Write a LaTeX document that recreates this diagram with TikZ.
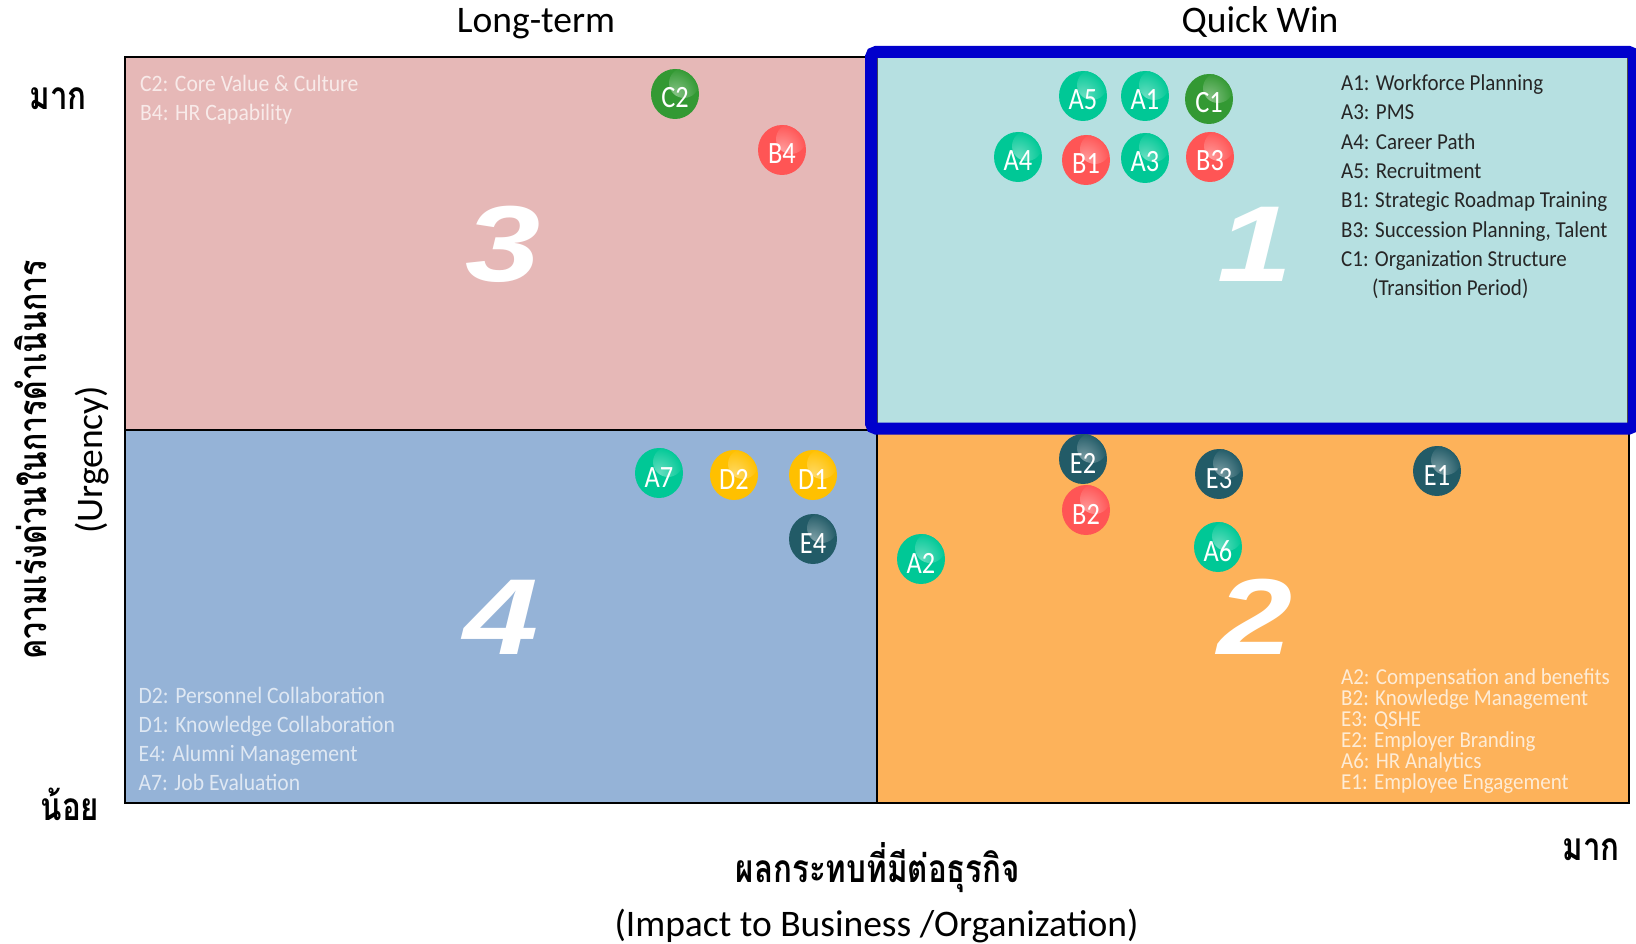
\documentclass[tikz,border=0pt]{standalone}
\usepackage{fontspec}
\usepackage{graphicx}
\setmainfont{Carlito}
\newfontfamily\legfont[FakeStretch=0.92]{Carlito}
\newfontfamily\bubfont[FakeStretch=0.85]{Carlito}
\newfontfamily\thaifont[Script=Thai]{Loma}
\newfontfamily\numfont{Liberation Sans}
\newcommand{\thsc}[1]{\scalebox{0.87}[1.08]{#1}}
\usetikzlibrary{shapes.geometric}
\definecolor{cA}{HTML}{00C896}
\definecolor{cB}{HTML}{FF5555}
\definecolor{cC}{HTML}{339933}
\definecolor{cD}{HTML}{FFC000}
\definecolor{cE}{HTML}{225B67}
\definecolor{qpink}{HTML}{E6B8B7}
\definecolor{qcyan}{HTML}{B6E0E1}
\definecolor{qblue}{HTML}{95B3D7}
\definecolor{qorange}{HTML}{FDB25A}
\definecolor{qborder}{HTML}{0000CC}
\definecolor{legdark}{HTML}{262626}
\tikzset{
  bub/.style={ellipse, minimum width=48pt, minimum height=50pt, inner sep=0pt,
    fill=#1, text=white, font=\bubfont\fontsize{31}{31}\selectfont,
    text height=28pt, text depth=0pt,
    path picture={\shade[inner color=#1!60!white, outer color=#1]
      ([xshift=9pt,yshift=11pt]path picture bounding box.center) circle (15pt);}},
  leg/.style={anchor=base west, inner sep=0pt, font=\legfont\fontsize{22.8}{22.8}\selectfont},
  legl/.style={anchor=base west, inner sep=0pt, font=\legfont\fontsize{23.5}{23.5}\selectfont},
  ttl/.style={anchor=base, inner sep=0pt, font=\fontsize{37.5}{37.5}\selectfont},
  bignum/.style={inner sep=0pt, text=white, font=\numfont\bfseries\itshape\fontsize{108}{108}\selectfont},
  thai/.style={inner sep=0pt, anchor=base, font=\thaifont\bfseries\fontsize{36}{36}\selectfont},
  gridline/.style={line width=2.2pt, black}
}
\begin{document}
\begin{tikzpicture}[x=1pt,y=-1pt]
\useasboundingbox (0,0) rectangle (1636,944);
\fill[white] (0,0) rectangle (1636,944);
% quadrants
\fill[qpink] (125,57) rectangle (877,430);
\fill[qcyan] (877,57) rectangle (1629,430);
\fill[qblue] (125,430) rectangle (877,803);
\fill[qorange] (877,430) rectangle (1629,803);
% grid lines
\draw[gridline] (125,57) rectangle (1629,803);
\draw[gridline] (125,430) -- (877,430);
\draw[gridline] (877,430) -- (877,803);
\draw[black!70, line width=1pt] (877,58) rectangle (1627,423);
\draw[qborder, line width=12pt, rounded corners=5pt] (871,52) rectangle (1634,428.5);
% big numbers
\node[bignum] (n3) at (503,244) {\scalebox{1.25}[1]{3}};
\node[bignum] (n1) at (1255,244) {\scalebox{1.25}[1]{1}};
\node[bignum] (n4) at (501,617) {\scalebox{1.25}[1]{4}};
\node[bignum] (n2) at (1255,617) {\scalebox{1.25}[1]{2}};
% legends Q1
\begin{scope}[every node/.style={leg, text=legdark}]
\node (l11) at (1341,90.7) {A1: Workforce Planning};
\node (l12) at (1341,119.9) {A3: PMS};
\node (l13) at (1341,149.2) {A4: Career Path};
\node (l14) at (1341,178.5) {A5: Recruitment};
\node (l15) at (1341,207.8) {B1: Strategic Roadmap Training};
\node (l16) at (1341,237.1) {B3: Succession Planning, Talent};
\node (l17) at (1341,266.4) {C1: Organization Structure};
\node (l18) at (1372,295.7) {(Transition Period)};
\end{scope}
% legends Q3
\begin{scope}[every node/.style={legl, text=white!70!qpink}]
\node (l31) at (140,91.7) {C2: Core Value \& Culture};
\node (l32) at (140,120.8) {B4: HR Capability};
\end{scope}
% legends Q4
\begin{scope}[every node/.style={legl, text=white!70!qblue}]
\node (l41) at (138.5,703.3) {D2: Personnel Collaboration};
\node (l42) at (138.5,732.5) {D1: Knowledge Collaboration};
\node (l43) at (138.5,761.7) {E4: Alumni Management};
\node (l44) at (138.5,790.9) {A7: Job Evaluation};
\end{scope}
% legends Q2
\begin{scope}[every node/.style={leg, text=white!75!qorange}]
\node (l21) at (1341,684) {A2: Compensation and benefits};
\node (l22) at (1341,705) {B2: Knowledge Management};
\node (l23) at (1341,726) {E3: QSHE};
\node (l24) at (1341,747) {E2: Employer Branding};
\node (l25) at (1341,768) {A6: HR Analytics};
\node (l26) at (1341,789) {E1: Employee Engagement};
\end{scope}
% bubbles
\node[bub=cC] (C2) at (675,94) {C2};
\node[bub=cB] (B4) at (782,150) {B4};
\node[bub=cA] (A5) at (1083,96) {A5};
\node[bub=cA] (A1) at (1145,96) {A1};
\node[bub=cC] (C1) at (1209,99) {C1};
\node[bub=cA] (A4) at (1018,157) {A4};
\node[bub=cB] (B1) at (1086,160) {B1};
\node[bub=cA] (A3) at (1145,158) {A3};
\node[bub=cB] (B3) at (1210,157) {B3};
\node[bub=cE] (E2) at (1083,459) {E2};
\node[bub=cB] (B2) at (1086,510) {B2};
\node[bub=cE] (E3) at (1219,474) {E3};
\node[bub=cE] (E1) at (1437,471) {E1};
\node[bub=cA] (A2) at (921,559) {A2};
\node[bub=cA] (A6) at (1218,547) {A6};
\node[bub=cA] (A7) at (659,473) {A7};
\node[bub=cD] (D2) at (734,475) {D2};
\node[bub=cD] (D1) at (813,475) {D1};
\node[bub=cE] (E4) at (813,539) {E4};
% axis titles
\node[ttl] (tlong) at (536,33) {Long-term};
\node[ttl] (tquick) at (1260,33) {Quick Win};
\node[ttl] (timpact) at (876.5,936) {(Impact to Business /Organization)};
\node[ttl, rotate=90] (turg) at (102,460) {(Urgency)};
\node[thai] (thigh) at (58,110) {\thsc{มาก}};
\node[thai] (tlow) at (70,820) {\thsc{น้อย}};
\node[thai] (thigh2) at (1591,860) {\thsc{มาก}};
\node[thai] (timpth) at (878,882) {\thsc{ผลกระทบที่มีต่อธุรกิจ}};
\node[thai, rotate=90] (turgth) at (46,460) {\scalebox{0.84}[1.08]{ความเร่งด่วนในการดำเนินการ}};
\end{tikzpicture}
\end{document}
